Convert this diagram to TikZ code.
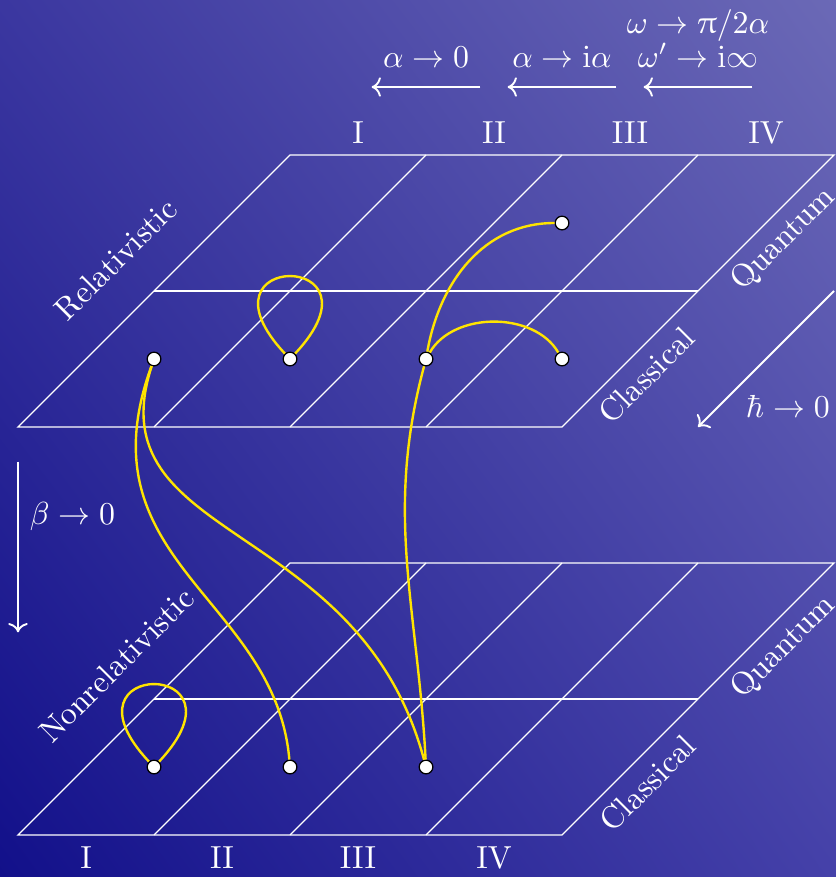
\documentclass[tikz,border=0pt]{standalone}
\usepackage{upgreek}
\usetikzlibrary{arrows.meta,shadings}
\definecolor{bgLL}{RGB}{18,16,138}
\definecolor{bgLR}{RGB}{69,65,169}
\definecolor{bgUL}{RGB}{59,55,160}
\definecolor{bgUR}{RGB}{107,105,182}
\definecolor{orbitcol}{RGB}{255,228,0}
\tikzset{
  plane/.style={white, line width=0.4pt},
  lab/.style={text=white},
  arr/.style={white, line width=0.6pt, ->},
  orbit/.style={orbitcol, line width=0.75pt},
  dot/.style={circle, fill=white, draw=black, line width=0.4pt, minimum size=4.3pt, inner sep=0pt}
}
\begin{document}
\begin{tikzpicture}[x=1.5cm,y=1.5cm]
\shade[lower left=bgLL, lower right=bgLR, upper left=bgUL, upper right=bgUR] (-0.1324,-3.3088) rectangle (6.0147,3.1397);
\useasboundingbox (-0.1324,-3.3088) rectangle (6.0147,3.1397);

% planes
\foreach \z in {0,-3} {
  \draw[plane] (0,\z) -- (4,\z) -- (6,\z+2) -- (2,\z+2) -- cycle;
  \draw[plane] (1,\z+1) -- (5,\z+1);
  \foreach \k in {1,2,3} \draw[plane] (\k,\z) -- (\k+2,\z+2);
}

% column labels
\node[lab, above] (t1) at (2.5,2) {I};
\node[lab, above] (t2) at (3.5,2) {II};
\node[lab, above] (t3) at (4.5,2) {III};
\node[lab, above] (t4) at (5.5,2) {IV};
\node[lab, below] (b1) at (0.5,-3) {I};
\node[lab, below] (b2) at (1.5,-3) {II};
\node[lab, below] (b3) at (2.5,-3) {III};
\node[lab, below] (b4) at (3.5,-3) {IV};

% side labels
\node[lab, rotate=45] (rel) at (0.72,1.235) {Relativistic};
\node[lab, rotate=45] (nrel) at (0.724,-1.75) {Nonrelativistic};
\node[lab, rotate=45] (qu) at (5.63,1.38) {Quantum};
\node[lab, rotate=45] (cu) at (4.62,0.38) {Classical};
\node[lab, rotate=45] (ql) at (5.63,-1.62) {Quantum};
\node[lab, rotate=45] (cl) at (4.63,-2.62) {Classical};

% limit arrows
\coordinate (a1s) at (3.4,2.5); \coordinate (a1e) at (2.6,2.5);
\coordinate (a2s) at (4.4,2.5); \coordinate (a2e) at (3.6,2.5);
\coordinate (a3s) at (5.4,2.5); \coordinate (a3e) at (4.6,2.5);
\draw[arr] (a1s) -- (a1e);
\draw[arr] (a2s) -- (a2e);
\draw[arr] (a3s) -- (a3e);
\node[lab, anchor=base] (l1t) at (3.0,2.647) {$\alpha\to0$};
\node[lab, anchor=base] (l2t) at (4.0,2.647) {$\alpha\to\mathrm{i}\alpha$};
\node[lab, anchor=base] (l3t) at (5.0,2.647) {$\omega'\to\mathrm{i}\infty$};
\node[lab, anchor=base] (l4t) at (5.0,2.897) {$\omega\to\uppi/2\alpha$};

\coordinate (hs) at (6,1); \coordinate (he) at (5,0);
\draw[arr] (hs) -- (he);
\node[lab, anchor=base] (hl) at (5.66,0.0735) {$\hbar\to0$};

\coordinate (bs) at (0,-0.255); \coordinate (be) at (0,-1.51);
\draw[arr] (bs) -- (be);
\node[lab, anchor=base] (bl) at (0.40,-0.72) {$\beta\to0$};

% states
\node[dot] (u1) at (1,0.5) {};
\node[dot] (u2) at (2,0.5) {};
\node[dot] (u3) at (3,0.5) {};
\node[dot] (u4) at (4,0.5) {};
\node[dot] (u5) at (4,1.5) {};
\node[dot] (d1) at (1,-2.5) {};
\node[dot] (d2) at (2,-2.5) {};
\node[dot] (d3) at (3,-2.5) {};

% connections
\draw[orbit] (u2) .. controls (1.25,1.3) and (2.75,1.3) .. (u2);
\draw[orbit] (u3) to[out=80,in=180] (u5);
\draw[orbit] (u3) to[out=60,in=120,looseness=0.95] (u4);
\draw[orbit] (u1) to[out=250,in=95,out looseness=1.28,in looseness=1.0] (d2);
\draw[orbit] (u1) to[out=252,in=105,out looseness=1.0,in looseness=1.35] (d3);
\draw[orbit] (u3) to[out=255,in=93] (d3);
\draw[orbit] (d1) .. controls (0.25,-1.7) and (1.75,-1.7) .. (d1);
\end{tikzpicture}
\end{document}
